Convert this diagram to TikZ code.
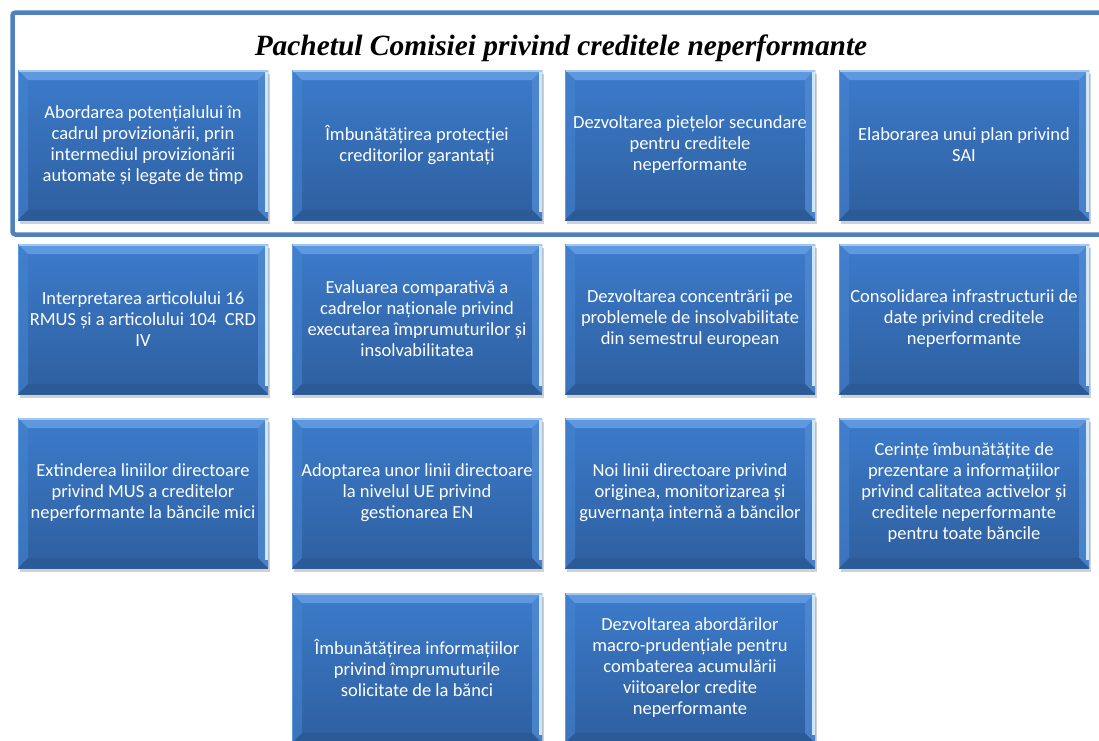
\documentclass[tikz,border=0pt]{standalone}
\usepackage{fontspec}
\setmainfont{Carlito}
\newfontfamily\titlefont{Liberation Serif}
\usetikzlibrary{shadows}
\definecolor{framebl}{HTML}{4F81BD}
\definecolor{boxtop}{HTML}{3C7BCB}
\definecolor{boxbot}{HTML}{2E5F9F}
\definecolor{bevtop}{HTML}{5E98DF}
\definecolor{bevleft}{HTML}{4583D0}
\definecolor{bevright}{HTML}{4F8AD2}
\definecolor{bevbot}{HTML}{2C5893}
\definecolor{hilite}{HTML}{CFE6FB}
\tikzset{
  bevbox/.style={
    rectangle, minimum width=250pt, minimum height=150pt, inner sep=0pt,
    top color=boxtop, bottom color=boxbot, draw=none,
    text=white, align=center,
    font=\fontsize{18.5}{21}\selectfont,
    drop shadow={shadow xshift=1.5pt, shadow yshift=-3.5pt, opacity=0.18, fill=black},
    path picture={
      \def\bv{10pt}
      \fill[bevtop] (path picture bounding box.north west) -- (path picture bounding box.north east)
        -- ([xshift=-\bv,yshift=-\bv]path picture bounding box.north east)
        -- ([xshift=\bv,yshift=-\bv]path picture bounding box.north west) -- cycle;
      \fill[bevleft,opacity=0.6] (path picture bounding box.north west) -- ([xshift=\bv,yshift=-\bv]path picture bounding box.north west)
        -- ([xshift=\bv,yshift=\bv]path picture bounding box.south west)
        -- (path picture bounding box.south west) -- cycle;
      \fill[bevright,opacity=0.8] (path picture bounding box.north east) -- ([xshift=-\bv,yshift=-\bv]path picture bounding box.north east)
        -- ([xshift=-\bv,yshift=\bv]path picture bounding box.south east)
        -- (path picture bounding box.south east) -- cycle;
      \fill[bevbot,opacity=0.7] (path picture bounding box.south west) -- ([xshift=\bv,yshift=\bv]path picture bounding box.south west)
        -- ([xshift=-\bv,yshift=\bv]path picture bounding box.south east)
        -- (path picture bounding box.south east) -- cycle;
      \draw[hilite,line width=3pt] ([xshift=-1.5pt,yshift=-2pt]path picture bounding box.north east) -- ([xshift=-1.5pt,yshift=8pt]path picture bounding box.south east);
      \draw[hilite!60!bevtop,line width=1.5pt] ([yshift=-0.75pt]path picture bounding box.north west) -- ([yshift=-0.75pt]path picture bounding box.north east);
      \draw[bevtop,line width=1.2pt] ([xshift=0.6pt]path picture bounding box.north west) -- ([xshift=0.6pt]path picture bounding box.south west);
    }
  },
  titletext/.style={font=\titlefont\bfseries\itshape\fontsize{29.4}{32}\selectfont, text=black, inner sep=0pt},
  frame/.style={draw=framebl, line width=4.5pt, rounded corners=3pt}
}
\begin{document}
\begin{tikzpicture}[x=1pt,y=-1pt]
\useasboundingbox (0,0) rectangle (1099,740);
\clip (0,0) rectangle (1099,740);
\fill[white] (0,0) rectangle (1099,740);
\draw[frame] (12.5,12.5) rectangle (1115,234.5);
\node[titletext, anchor=base] (title) at (561,55) {Pachetul Comisiei privind creditele neperformante};

\node[bevbox] (a1) at (143,145) {Abordarea potențialului în\\cadrul provizionării, prin\\intermediul provizionării\\automate și legate de timp};
\node[bevbox] (a2) at (417,145) {Îmbunătățirea protecției\\creditorilor garantați};
\node[bevbox] (a3) at (690,145) {Dezvoltarea piețelor secundare\\pentru creditele\\neperformante};
\node[bevbox] (a4) at (964,145) {Elaborarea unui plan privind\\SAI};

\node[bevbox] (b1) at (143,319) {Interpretarea articolului 16\\RMUS și a articolului 104\ \ CRD\\IV};
\node[bevbox] (b2) at (417,319) {Evaluarea comparativă a\\cadrelor naționale privind\\executarea împrumuturilor și\\insolvabilitatea};
\node[bevbox] (b3) at (690,319) {Dezvoltarea concentrării pe\\problemele de insolvabilitate\\din semestrul european};
\node[bevbox] (b4) at (964,319) {Consolidarea infrastructurii de\\date privind creditele\\neperformante};

\node[bevbox] (c1) at (143,493) {Extinderea liniilor directoare\\privind MUS a creditelor\\neperformante la băncile mici};
\node[bevbox] (c2) at (417,493) {Adoptarea unor linii directoare\\la nivelul UE privind\\gestionarea EN};
\node[bevbox] (c3) at (690,493) {Noi linii directoare privind\\originea, monitorizarea și\\guvernanța internă a băncilor};
\node[bevbox] (c4) at (964,493) {Cerințe îmbunătățite de\\prezentare a informațiilor\\privind calitatea activelor și\\creditele neperformante\\pentru toate băncile};

\node[bevbox] (d2) at (417,668) {Îmbunătățirea informațiilor\\privind împrumuturile\\solicitate de la bănci};
\node[bevbox] (d3) at (690,668) {Dezvoltarea abordărilor\\macro-prudențiale pentru\\combaterea acumulării\\viitoarelor credite\\neperformante};
\end{tikzpicture}
\end{document}
